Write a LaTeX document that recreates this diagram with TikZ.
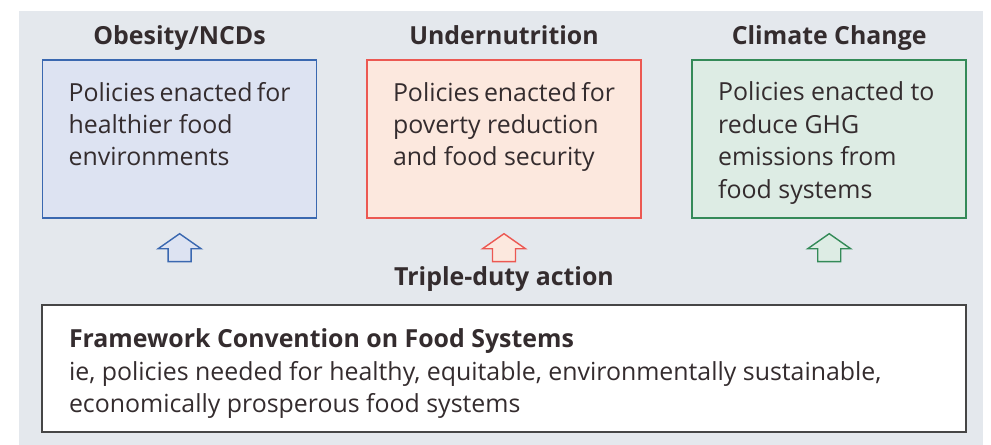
\documentclass[tikz,border=0pt]{standalone}
\usepackage{fontspec}
\setmainfont{Open Sans}
\usepackage{tikz}
\usetikzlibrary{positioning,shapes.arrows}

\definecolor{panelgray}{RGB}{228,232,237}
\definecolor{txtdark}{RGB}{52,44,46}
\definecolor{obeline}{RGB}{58,104,176}
\definecolor{obefill}{RGB}{221,227,242}
\definecolor{undline}{RGB}{236,88,82}
\definecolor{undfill}{RGB}{252,232,222}
\definecolor{climline}{RGB}{52,138,88}
\definecolor{climfill}{RGB}{221,236,228}
\definecolor{fcline}{RGB}{70,70,70}

\begin{document}
\begin{tikzpicture}[
    font=\fontsize{17.7}{23.1}\selectfont,
    text=txtdark,
    policy/.style={
		rectangle,
		draw=#1line,
		fill=#1fill,
		line width=1.2pt,
		minimum width=6.85cm,
		minimum height=3.95cm,
		inner sep=0pt
	},
	heading/.style={
		font=\fontsize{17.7}{23.1}\selectfont\bfseries,
		text height=0.46cm,
		text depth=0.12cm
	},
	uparrow/.style={
		single arrow,
		shape border rotate=90,
		draw=#1line,
		fill=#1fill,
		line width=1pt,
		minimum height=0.7cm,
		single arrow head extend=0.25cm,
		single arrow tip angle=110,
		inner xsep=0.27cm,
		inner ysep=0pt
	}
  ]
  % background and page size
  \useasboundingbox (0,0) rectangle (24.775,-11.125);
  \fill [panelgray] (0.475,-0.275) rectangle (24.575,-11.125);

  % the three policy boxes
  \node [policy=obe] (obesity) at (4.49,-3.475)
 {\parbox[c][3.95cm][t]{5.55cm}{\vspace{0.55cm}%
  Policies enacted for\\
  healthier food\\
  environments}};

  \node [policy=und] (undernut) at (12.6,-3.475)
 {\parbox[c][3.95cm][t]{5.55cm}{\vspace{0.55cm}%
  Policies enacted for\\
  poverty reduction\\
  and food security}};

  \node [policy=clim] (climate) at (20.73,-3.475)
 {\parbox[c][3.95cm][t]{5.55cm}{\vspace{0.55cm}%
  Policies enacted to\\
  reduce GHG\\
  emissions from\\
  food systems}};

  % headings
  \node [heading, above=0.12cm of obesity] (obehead) {Obesity/NCDs};
  \node [heading, above=0.12cm of undernut] (undhead) {Undernutrition};
  \node [heading, above=0.12cm of climate] (climhead) {Climate Change};

  % arrows
  \node [uparrow=obe, below=0.35cm of obesity] (obearrow) {};
  \node [uparrow=und, below=0.35cm of undernut] (undarrow) {};
  \node [uparrow=clim, below=0.35cm of climate] (climarrow) {};

  \node [heading, below=0.0cm of undarrow] (triple) {Triple-duty action};

  % framework box
  \node [draw=fcline, fill=white, line width=1.6pt, minimum width=23.1cm,
         minimum height=3.175cm, inner sep=0pt] (framework) at (12.6,-9.21)
 {\parbox[c][3.175cm][t]{21.75cm}{\vspace{0.6cm}%
  \textbf{Framework Convention on Food Systems}\\
  ie, policies needed for healthy, equitable, environmentally sustainable,\\
  economically prosperous food systems}};

\end{tikzpicture}
\end{document}
